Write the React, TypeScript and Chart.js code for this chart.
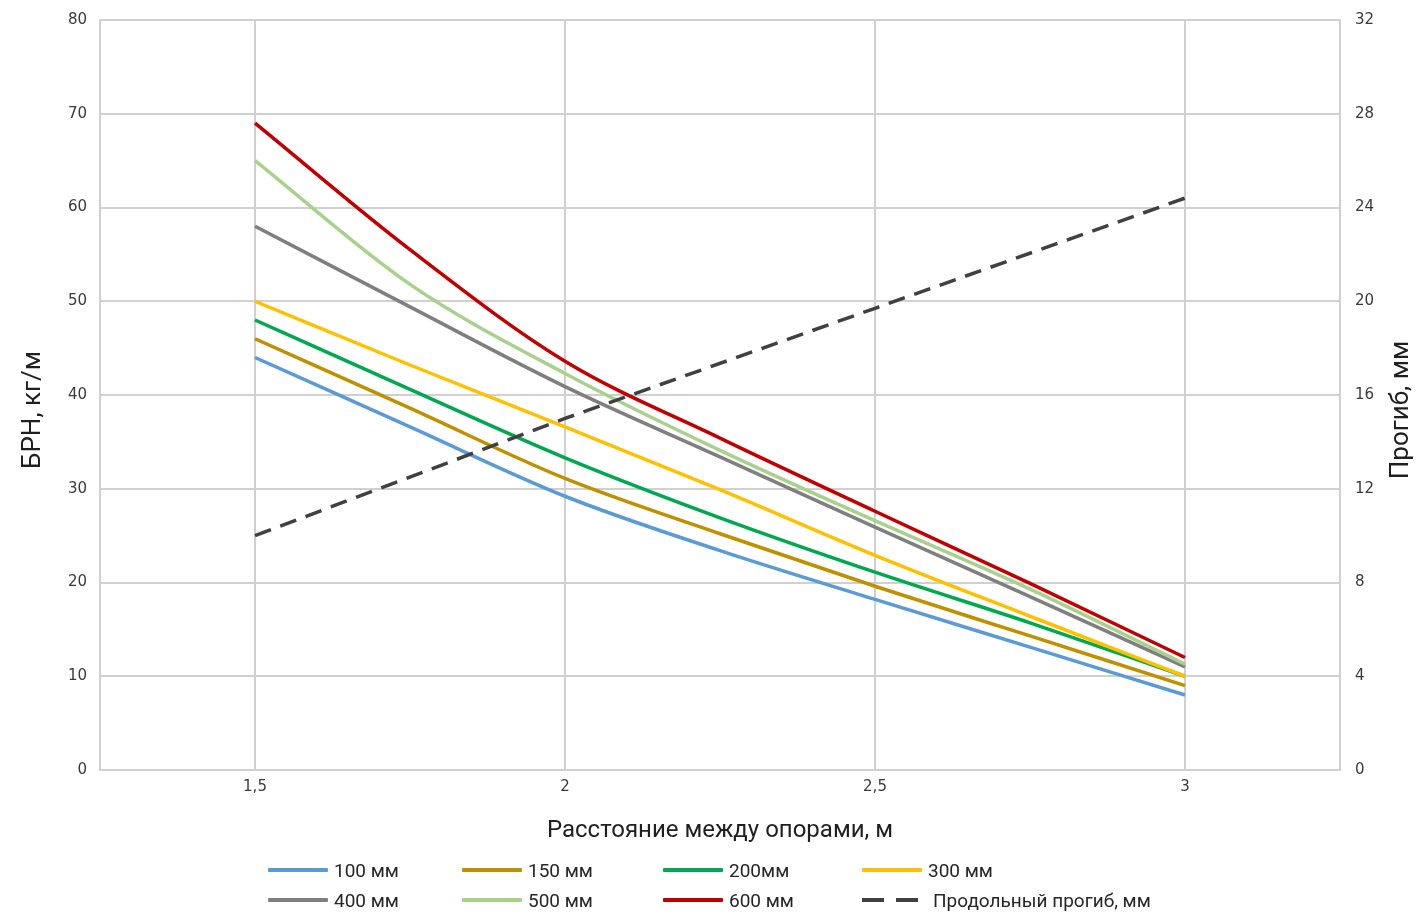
import React, { useEffect, useRef } from "react";
import { Chart, registerables } from "chart.js";

Chart.register(...registerables);

// Span between supports, m
const SPAN = [1.5, 1.75, 2, 2.25, 2.5, 2.75, 3];
const SPAN_DEFL = [1.5, 2, 2.5, 3];
const X_TICKS = [1.5, 2, 2.5, 3];

// Load (БРН, кг/м) per tray width
const S100 = [44, 36.6, 29.2, 23.4, 18.2, 13.1, 8];
const S150 = [46, 38.6, 31.1, 25.2, 19.6, 14.3, 9];
const S200 = [48, 40.6, 33.3, 26.9, 21.1, 15.7, 10];
const S300 = [50, 43.2, 36.6, 29.9, 22.9, 16.4, 10];
const S400 = [58, 49.4, 40.9, 33.4, 25.9, 18.5, 11];
const S500 = [65, 51.8, 42.3, 34.1, 26.6, 19.3, 11.3];
const S600 = [69, 55.5, 43.6, 35.4, 27.6, 19.9, 12];

// Longitudinal deflection, mm (right axis)
const DEFL = [10, 15, 19.7, 24.4];

const LABELS = [
  "100 мм",
  "150 мм",
  "200мм",
  "300 мм",
  "400 мм",
  "500 мм",
  "600 мм",
  "Продольный прогиб, мм",
];
const COLORS = [
  "#5B9BD5",
  "#BF9000",
  "#00A84F",
  "#FFC000",
  "#7F7F7F",
  "#A9D18E",
  "#C00000",
  "#404040",
];

const Y_TITLE = "БРН, кг/м";
const Y1_TITLE = "Прогиб, мм";
const X_TITLE = "Расстояние между опорами, м";

const LEGEND_COLS = [268, 462, 663, 862];
const LEGEND_ROWS = [870, 900];

const GRID = "#d0d0d0";
const TITLE_FONT = "Roboto, 'Noto Sans', sans-serif";
const TICK_FONT = "'DejaVu Sans', sans-serif";

const fmt = (v: number) => String(v).replace(".", ",");

const titlesPlugin = {
  id: "axisTitles",
  afterDraw(chart: any) {
    const { ctx, chartArea } = chart;
    ctx.save();
    ctx.fillStyle = "#1f1f1f";
    ctx.textAlign = "center";
    ctx.textBaseline = "middle";
    ctx.font = `26px ${TITLE_FONT}`;
    const cy = (chartArea.top + chartArea.bottom) / 2 + 15;
    ctx.save();
    ctx.translate(33, cy);
    ctx.rotate(-Math.PI / 2);
    ctx.fillText(Y_TITLE, 0, 0);
    ctx.restore();
    ctx.save();
    ctx.translate(1401, cy);
    ctx.rotate(-Math.PI / 2);
    ctx.fillText(Y1_TITLE, 0, 0);
    ctx.restore();
    ctx.font = `24px ${TITLE_FONT}`;
    ctx.fillText(X_TITLE, (chartArea.left + chartArea.right) / 2, 831);
    ctx.restore();
  },
};

export default function App() {
  const ref = useRef<HTMLCanvasElement | null>(null);

  useEffect(() => {
    if (!ref.current) return;
    const main = [S100, S150, S200, S300, S400, S500, S600];
    const datasets: any[] = main.map((arr, i) => ({
      label: LABELS[i],
      data: SPAN.map((x, j) => ({ x, y: arr[j] })),
      borderColor: COLORS[i],
      backgroundColor: COLORS[i],
      borderWidth: 3.5,
      pointRadius: 0,
      cubicInterpolationMode: "monotone",
      yAxisID: "y",
      order: 20 - i,
    }));
    datasets.push({
      label: LABELS[7],
      data: SPAN_DEFL.map((x, j) => ({ x, y: DEFL[j] })),
      borderColor: COLORS[7],
      backgroundColor: COLORS[7],
      borderWidth: 3.5,
      borderDash: [17, 10],
      pointRadius: 0,
      yAxisID: "y1",
      order: 1,
    });

    const chart = new Chart(ref.current, {
      type: "line",
      data: { datasets },
      options: {
        responsive: false,
        animation: false,
        devicePixelRatio: 1,
        layout: { padding: { top: 20, bottom: 60, left: 0, right: 0 } },
        plugins: {
          legend: { display: false },
          tooltip: { enabled: false },
        },
        scales: {
          x: {
            type: "linear",
            min: 1.25,
            max: 3.25,
            afterBuildTicks: (s: any) => {
              s.ticks = X_TICKS.map((v) => ({ value: v }));
            },
            afterFit: (s: any) => {
              s.height = 84;
              s.paddingLeft = 0;
              s.paddingRight = 0;
            },
            ticks: {
              callback: (v: any) => fmt(Number(v)),
              font: { family: TICK_FONT, size: 15 },
              color: "#3a3a3a",
              padding: 8,
              maxRotation: 0,
              autoSkip: false,
            },
            grid: { color: GRID, lineWidth: 2, drawTicks: false },
            border: { color: GRID, width: 2 },
          },
          y: {
            position: "left",
            min: 0,
            max: 80,
            afterFit: (s: any) => {
              s.width = 100;
              s.paddingTop = 0;
              s.paddingBottom = 0;
            },
            ticks: {
              stepSize: 10,
              font: { family: TICK_FONT, size: 15 },
              color: "#3a3a3a",
              padding: 13,
            },
            grid: { color: GRID, lineWidth: 2, drawTicks: false },
            border: { color: GRID, width: 2 },
          },
          y1: {
            position: "right",
            min: 0,
            max: 32,
            afterFit: (s: any) => {
              s.width = 80;
              s.paddingTop = 0;
              s.paddingBottom = 0;
            },
            ticks: {
              stepSize: 4,
              font: { family: TICK_FONT, size: 15 },
              color: "#3a3a3a",
              padding: 15,
            },
            grid: { drawOnChartArea: false, drawTicks: false },
            border: { color: GRID, width: 2 },
          },
        },
      } as any,
      plugins: [titlesPlugin],
    });
    return () => chart.destroy();
  }, []);

  return (
    <div
      style={{
        position: "fixed",
        left: 0,
        top: 0,
        width: 1420,
        height: 914,
        background: "#fff",
        overflow: "hidden",
      }}
    >
      <canvas ref={ref} width={1420} height={914} style={{ display: "block" }} />
      {LABELS.map((lab, i) => {
        const col = i % 4;
        const row = Math.floor(i / 4);
        const dashed = i === 7;
        return (
          <div
            key={lab}
            style={{
              position: "absolute",
              left: LEGEND_COLS[col],
              top: LEGEND_ROWS[row] - 12,
              height: 24,
              display: "flex",
              alignItems: "center",
              fontFamily: TITLE_FONT,
              fontSize: 19,
              color: "#262626",
              whiteSpace: "nowrap",
            }}
          >
            {dashed ? (
              <span style={{ display: "flex", width: 56, marginRight: 15 }}>
                <span style={{ width: 22, height: 4, background: COLORS[i] }} />
                <span style={{ width: 12 }} />
                <span style={{ width: 22, height: 4, background: COLORS[i] }} />
              </span>
            ) : (
              <span
                style={{
                  width: 60,
                  height: 4,
                  background: COLORS[i],
                  marginRight: 6,
                  borderRadius: 1,
                }}
              />
            )}
            <span>{lab}</span>
          </div>
        );
      })}
    </div>
  );
}
